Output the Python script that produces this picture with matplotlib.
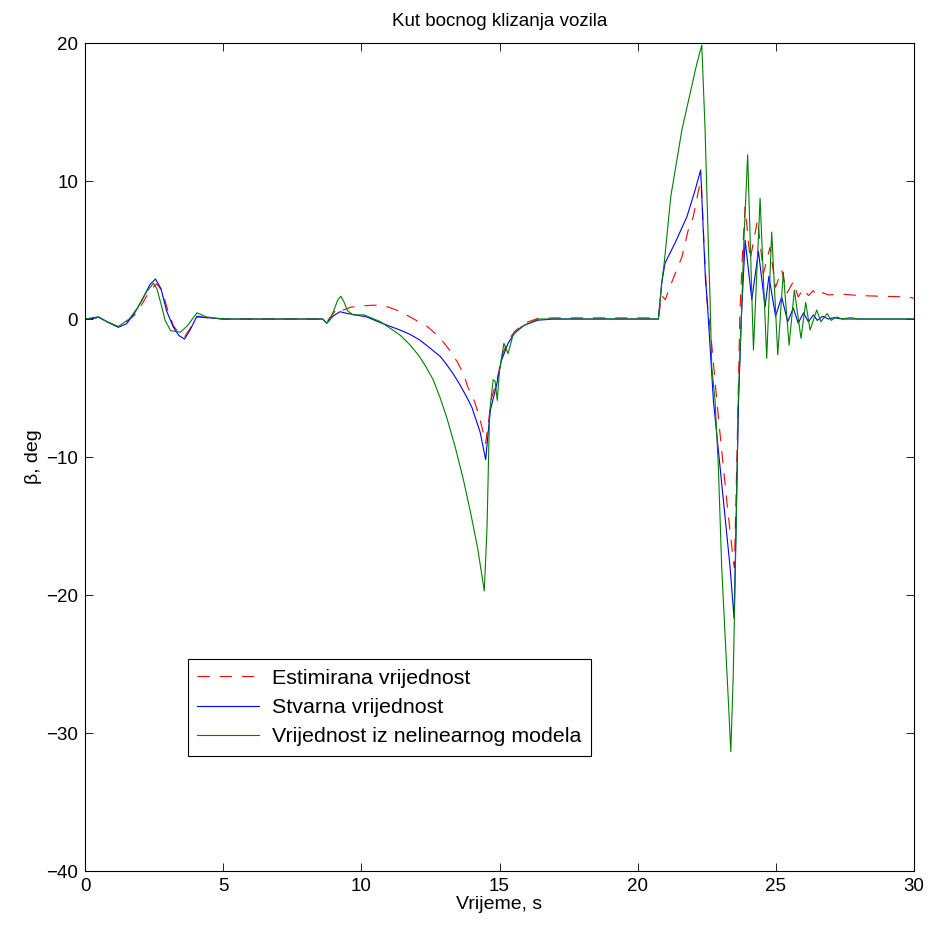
import numpy as np
import matplotlib
matplotlib.use("Agg")
import matplotlib.pyplot as plt

plt.rcParams["font.family"] = ["Liberation Sans", "DejaVu Sans"]

# Estimirana vrijednost (red, dashed)
t_est = [0, 0.5, 0.8, 1.2, 1.5, 1.8, 2.1, 2.35, 2.6, 2.8, 3.0, 3.2, 3.4, 3.6, 3.8, 4.05, 4.4, 5.0,
         8.6, 8.75, 8.9, 9.1, 9.2, 9.35, 9.6, 10.0, 10.4, 10.7, 11.0, 11.4, 11.9, 12.4, 12.7, 13.0, 13.25,
         13.5, 13.7, 13.85, 14.1, 14.3, 14.5,
         14.6, 14.7, 14.9, 15.1, 15.3, 15.55, 15.9, 16.4, 17.0, 20.75,
         20.87, 21.0, 21.17, 21.6, 21.83, 22.01, 22.23, 22.3, 22.4, 22.5, 22.64, 22.92, 23.22, 23.46,
         23.5, 23.53, 23.61, 23.7, 23.8, 23.89, 24.07, 24.34, 24.55, 24.79, 24.99, 25.21, 25.41, 25.63,
         25.81, 26.0, 26.18, 26.36, 26.5, 26.7, 26.9, 27.4, 28.0, 28.8, 29.8, 30.0]
v_est = [0, 0.1, -0.2, -0.55, -0.2, 0.3, 1.2, 2.1, 2.55, 2.0, 0.6, -0.5, -1.0, -1.3, -0.7, 0.15, 0.1, 0,
         0, -0.2, 0.2, 0.7, 0.85, 0.65, 0.85, 0.95, 1.0, 1.0, 0.85, 0.55, 0.0, -0.56, -1.1, -1.75, -2.4,
         -3.2, -4.0, -4.9, -6.0, -7.3, -9.0,
         -7.5, -5.8, -4.5, -2.6, -1.6, -0.9, -0.3, 0.05, 0.08, 0.08,
         1.7, 1.4, 2.35, 4.5, 6.45, 7.4, 9.6, 10.0, 5.5, 1.5, -1.0, -7.1, -13.1, -17.5,
         -18.0, -15.5, -8.3, 0.5, 5.0, 8.1, 4.3, 7.2, 3.3, 5.2, 2.3, 3.55, 1.9, 2.7,
         1.6, 2.2, 1.7, 2.05, 1.65, 1.9, 1.75, 1.8, 1.7, 1.65, 1.6, 1.5]

# Stvarna vrijednost (blue)
t_real = [0, 0.3, 0.5, 0.8, 1.2, 1.5, 1.8, 2.1, 2.35, 2.55, 2.75, 2.95, 3.2, 3.4, 3.6, 3.8, 4.05, 4.4, 5.0,
          8.6, 8.75, 8.85, 9.0, 9.23, 9.5, 10.2, 10.7, 11.4, 11.75, 12.1, 12.45, 12.85, 13.05, 13.3, 13.55,
          13.8, 14.0, 14.15, 14.3, 14.4, 14.5,
          14.6, 14.67, 14.88, 15.07, 15.31, 15.55, 15.91, 16.4, 17.0, 20.75,
          20.87, 20.99, 21.35, 21.78, 22.08, 22.28, 22.35, 22.45, 22.52, 22.62, 22.74, 23.04, 23.34, 23.49,
          23.56, 23.65, 23.75, 23.89, 24.13, 24.37, 24.61, 24.75, 24.99, 25.21, 25.43, 25.63, 25.81, 26.0,
          26.18, 26.36, 26.5, 26.7, 26.9, 27.1, 27.4, 30.0]
v_real = [0, 0.05, 0.15, -0.2, -0.6, -0.35, 0.45, 1.5, 2.5, 2.9, 2.2, 0.6, -0.6, -1.2, -1.45, -0.8, 0.2, 0.1, 0,
          0, -0.3, -0.05, 0.25, 0.53, 0.4, 0.15, -0.27, -0.8, -1.1, -1.5, -2.05, -2.7, -3.2, -3.9, -4.7,
          -5.6, -6.4, -7.3, -8.2, -9.2, -10.2,
          -8.0, -6.6, -4.9, -3.0, -1.76, -1.0, -0.43, -0.08, 0, 0,
          2.6, 4.05, 5.5, 7.4, 9.35, 10.8, 7.5, 3.0, 1.2, -2.0, -5.9, -11.9, -17.9, -21.7,
          -15.0, -6.0, 0, 5.7, 1.4, 4.9, 0.9, 3.1, 0.2, 1.6, -0.2, 0.8, -0.3, 0.45,
          -0.2, 0.3, -0.1, 0.2, 0, 0.1, 0, 0]

# Vrijednost iz nelinearnog modela (green)
t_nl = [0, 0.45, 0.8, 1.2, 1.6, 1.9, 2.2, 2.48, 2.6, 2.75, 2.9, 3.1, 3.45, 3.7, 4.05, 4.4, 5.0,
        8.6, 8.75, 8.85, 9.0, 9.15, 9.26, 9.38, 9.5, 9.7, 10.1, 10.7, 11.4, 11.75, 12.1, 12.35, 12.6, 12.85,
        13.1, 13.4, 13.7, 13.95, 14.2, 14.45,
        14.55, 14.6, 14.64, 14.77, 14.84, 14.92, 15.0, 15.16, 15.31, 15.49, 15.79, 16.4, 17.0, 20.75,
        20.87, 20.96, 21.2, 21.6, 22.14, 22.32, 22.44, 22.56, 22.62, 22.68, 22.8, 22.92, 23.04, 23.16, 23.28, 23.37,
        23.46, 23.56, 23.64, 23.75, 23.85, 23.98, 24.19, 24.43, 24.67, 24.85, 25.07, 25.27, 25.48, 25.67, 25.91,
        26.08, 26.24, 26.48, 26.63, 26.86, 27.0, 27.2, 27.4, 27.7, 28.0, 30.0]
v_nl = [0, 0.15, -0.2, -0.55, 0.0, 0.8, 1.9, 2.6, 2.2, 1.1, -0.1, -0.85, -0.95, -0.5, 0.45, 0.15, 0,
        0, -0.3, -0.1, 0.6, 1.4, 1.65, 1.2, 0.6, 0.3, 0.3, -0.2, -1.16, -1.85, -2.7, -3.5, -4.4, -5.7,
        -7.2, -9.3, -11.7, -14.0, -16.5, -19.7,
        -15.0, -10.4, -6.8, -4.4, -4.5, -5.9, -3.7, -1.76, -2.5, -1.16, -0.56, 0, 0, 0,
        2.6, 4.05, 8.9, 13.7, 18.5, 19.85, 13.7, 5.2, 1.4, -3.45, -5.9, -10.7, -17.95, -22.8, -27.6, -31.35,
        -25.7, -15.5, -5.9, 0, 6.0, 11.9, -2.25, 8.75, -2.85, 6.3, -2.6, 3.4, -1.9, 2.1, -1.4,
        1.2, -0.8, 0.65, -0.2, 0.4, -0.1, 0.15, 0, 0.1, 0, 0]

fig = plt.figure(figsize=(9.30, 9.31), dpi=100)
ax = fig.add_axes([0.0914, 0.0644, 0.8914, 0.8894])

line_est, = ax.plot(t_est, v_est, color="#ff0000", lw=0.8, label="Estimirana vrijednost")
line_est.set_dashes([11, 9])
ax.plot(t_real, v_real, color="#0000ff", lw=0.8, label="Stvarna vrijednost")
ax.plot(t_nl, v_nl, color="#008000", lw=0.8, label="Vrijednost iz nelinearnog modela")

ax.set_xlim(0, 30)
ax.set_ylim(-40, 20)
ax.set_xticks(np.arange(0, 31, 5))
ax.set_yticks(np.arange(-40, 21, 10))
ax.tick_params(direction="in", length=6, width=0.6, top=True, right=True, labelsize=13.5, pad=5)
for s in ax.spines.values():
    s.set_linewidth(0.8)

ax.set_title("Kut bocnog klizanja vozila", fontsize=13.5, pad=12)
ax.set_xlabel("Vrijeme, s", fontsize=14, labelpad=1)
ax.set_ylabel("β, deg", fontsize=14, labelpad=3)

leg = ax.legend(loc="lower left", bbox_to_anchor=(0.124, 0.139), fontsize=15.4, fancybox=False,
                edgecolor="black", framealpha=1, handlelength=2.9, borderpad=0.45,
                labelspacing=0.48, handletextpad=0.6, borderaxespad=0)
leg.get_frame().set_linewidth(0.8)

fig.savefig("out.png", dpi=100)
